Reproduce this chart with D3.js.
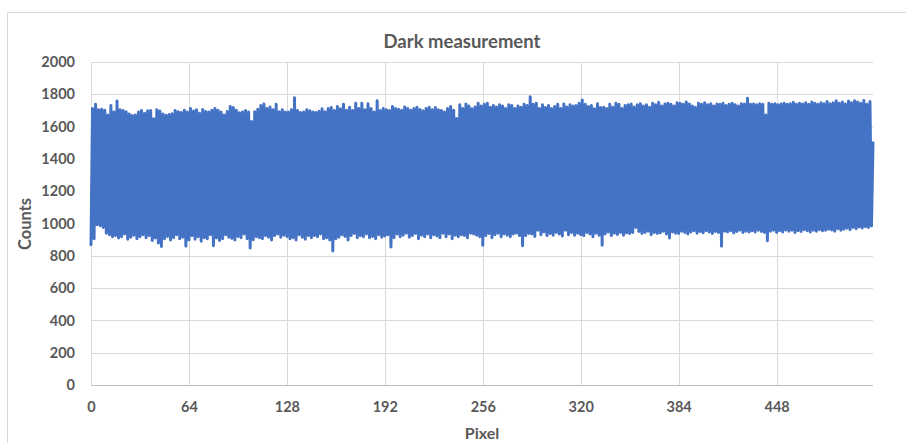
<!DOCTYPE html>
<html><head><meta charset="utf-8">
<script src="https://cdn.jsdelivr.net/npm/d3@7"></script>
<style>body{margin:0;background:#fff}svg{display:block}text{font-family:Lato,"Open Sans",sans-serif;font-weight:bold;fill:#595959}</style>
</head><body><svg id="c" width="906" height="443"></svg>
<script>
const title = "Dark measurement";
const xLabel = "Pixel";
const yLabel = "Counts";
const xTicks = [0, 64, 128, 192, 256, 320, 384, 448];
const yTicks = [0, 200, 400, 600, 800, 1000, 1200, 1400, 1600, 1800, 2000];
const counts = [
868,1712,905,1738,992,1705,986,1708,975,1702,940,1672,930,1731,918,1690,
925,1758,910,1705,918,1700,935,1692,902,1678,915,1668,928,1672,905,1690,
918,1700,930,1682,912,1698,925,1700,895,1648,910,1705,880,1696,858,1678,
905,1670,920,1675,898,1680,912,1700,930,1692,905,1688,915,1702,860,1690,
898,1712,925,1696,902,1705,918,1682,890,1706,912,1694,905,1690,930,1702,
862,1712,910,1702,895,1690,905,1672,930,1694,915,1725,908,1718,898,1702,
920,1685,912,1690,935,1700,905,1690,848,1632,900,1692,918,1708,912,1730,
905,1740,925,1712,915,1722,898,1705,925,1738,935,1692,915,1705,928,1690,
920,1690,905,1705,912,1778,898,1700,930,1688,915,1690,902,1705,925,1698,
912,1690,925,1688,918,1695,935,1710,905,1692,912,1712,898,1718,830,1700,
905,1725,915,1710,930,1738,920,1702,898,1720,925,1700,938,1745,912,1712,
925,1745,918,1705,935,1742,912,1712,920,1690,905,1760,930,1700,915,1712,
922,1705,930,1700,855,1725,912,1712,935,1708,918,1702,928,1722,940,1712,
915,1702,925,1712,938,1720,905,1706,928,1698,918,1712,935,1720,912,1705,
930,1718,922,1705,912,1700,940,1690,918,1712,935,1725,905,1702,928,1650,
918,1735,930,1712,925,1740,912,1728,940,1710,935,1722,928,1745,918,1728,
866,1738,925,1745,938,1720,912,1730,930,1722,940,1735,918,1728,935,1712,
928,1735,918,1730,935,1712,940,1728,925,1720,862,1738,925,1730,938,1785,
935,1738,920,1745,958,1712,930,1735,948,1718,925,1730,938,1712,928,1725,
945,1738,935,1712,922,1740,958,1722,930,1735,945,1728,928,1730,940,1745,
930,1765,925,1738,945,1725,935,1730,918,1710,940,1742,928,1718,865,1720,
935,1712,948,1738,925,1720,940,1745,932,1738,945,1712,928,1730,942,1735,
938,1740,945,1722,975,1735,950,1742,938,1728,945,1735,952,1720,930,1745,
945,1735,938,1750,942,1728,952,1740,935,1745,910,1738,948,1728,940,1748,
938,1745,952,1738,945,1752,935,1740,948,1728,955,1720,940,1745,950,1738,
942,1748,955,1735,948,1742,938,1728,950,1740,945,1738,860,1745,952,1730,
948,1738,955,1745,942,1735,950,1728,958,1742,945,1740,952,1775,948,1738,
955,1740,948,1735,958,1742,950,1738,945,1672,893,1745,952,1738,958,1742,
945,1735,955,1740,948,1745,960,1738,952,1742,958,1750,945,1738,955,1745,
950,1740,962,1748,955,1738,948,1752,958,1745,952,1738,962,1748,955,1742,
958,1755,965,1742,960,1748,952,1760,968,1745,958,1752,965,1740,970,1758,
962,1748,975,1760,968,1752,978,1745,972,1762,980,1738,975,1755,985,1500
];

const svg = d3.select("#c");
const m = {l: 91, r: 873, t: 62, b: 385};
const x = d3.scaleLinear().domain([0, counts.length - 1]).range([m.l, m.r]);
const y = d3.scaleLinear().domain([0, 2000]).range([m.b, m.t]);

svg.append("rect").attr("x", 7.5).attr("y", 12.5).attr("width", 1000).attr("height", 1000)
  .attr("fill", "none").attr("stroke", "#d9d9d9");

// grid
svg.append("g").selectAll("line").data(yTicks.filter(d => d > 0)).join("line")
  .attr("x1", m.l).attr("x2", m.r).attr("y1", d => Math.round(y(d)) + 0.5).attr("y2", d => Math.round(y(d)) + 0.5)
  .attr("stroke", "#d9d9d9");
svg.append("g").selectAll("line").data(xTicks).join("line")
  .attr("y1", m.t).attr("y2", m.b).attr("x1", d => Math.round(x(d)) + 0.5).attr("x2", d => Math.round(x(d)) + 0.5)
  .attr("stroke", "#d9d9d9");
svg.append("line").attr("x1", m.l).attr("x2", m.r).attr("y1", m.b + 0.5).attr("y2", m.b + 0.5)
  .attr("stroke", "#bfbfbf");

// axes
const xa = svg.append("g").attr("transform", `translate(0,${m.b})`)
  .call(d3.axisBottom(x).tickValues(xTicks).tickFormat(d3.format("d")).tickSize(0).tickPadding(17));
xa.select(".domain").remove();
xa.selectAll("text").style("font-size", "14.5px").attr("fill", "#595959");
const ya = svg.append("g").attr("transform", `translate(${m.l},0)`)
  .call(d3.axisLeft(y).tickValues(yTicks).tickFormat(d3.format("d")).tickSize(0).tickPadding(16));
ya.select(".domain").remove();
ya.selectAll("text").style("font-size", "14.5px").attr("fill", "#595959");

// series
svg.append("path").datum(counts)
  .attr("d", d3.line().x((d, i) => x(i)).y(d => y(d)))
  .attr("fill", "none").attr("stroke", "#4472C4").attr("stroke-width", 3)
  .attr("stroke-linejoin", "round").attr("stroke-linecap", "round");

svg.append("text").attr("x", 462).attr("y", 48).attr("text-anchor", "middle")
  .style("font-size", "18.5px").text(title);
svg.append("text").attr("x", 482).attr("y", 439).attr("text-anchor", "middle")
  .style("font-size", "16px").text(xLabel);
svg.append("text").attr("transform", "translate(31,224) rotate(-90)").attr("text-anchor", "middle")
  .style("font-size", "16.5px").text(yLabel);
</script></body></html>
